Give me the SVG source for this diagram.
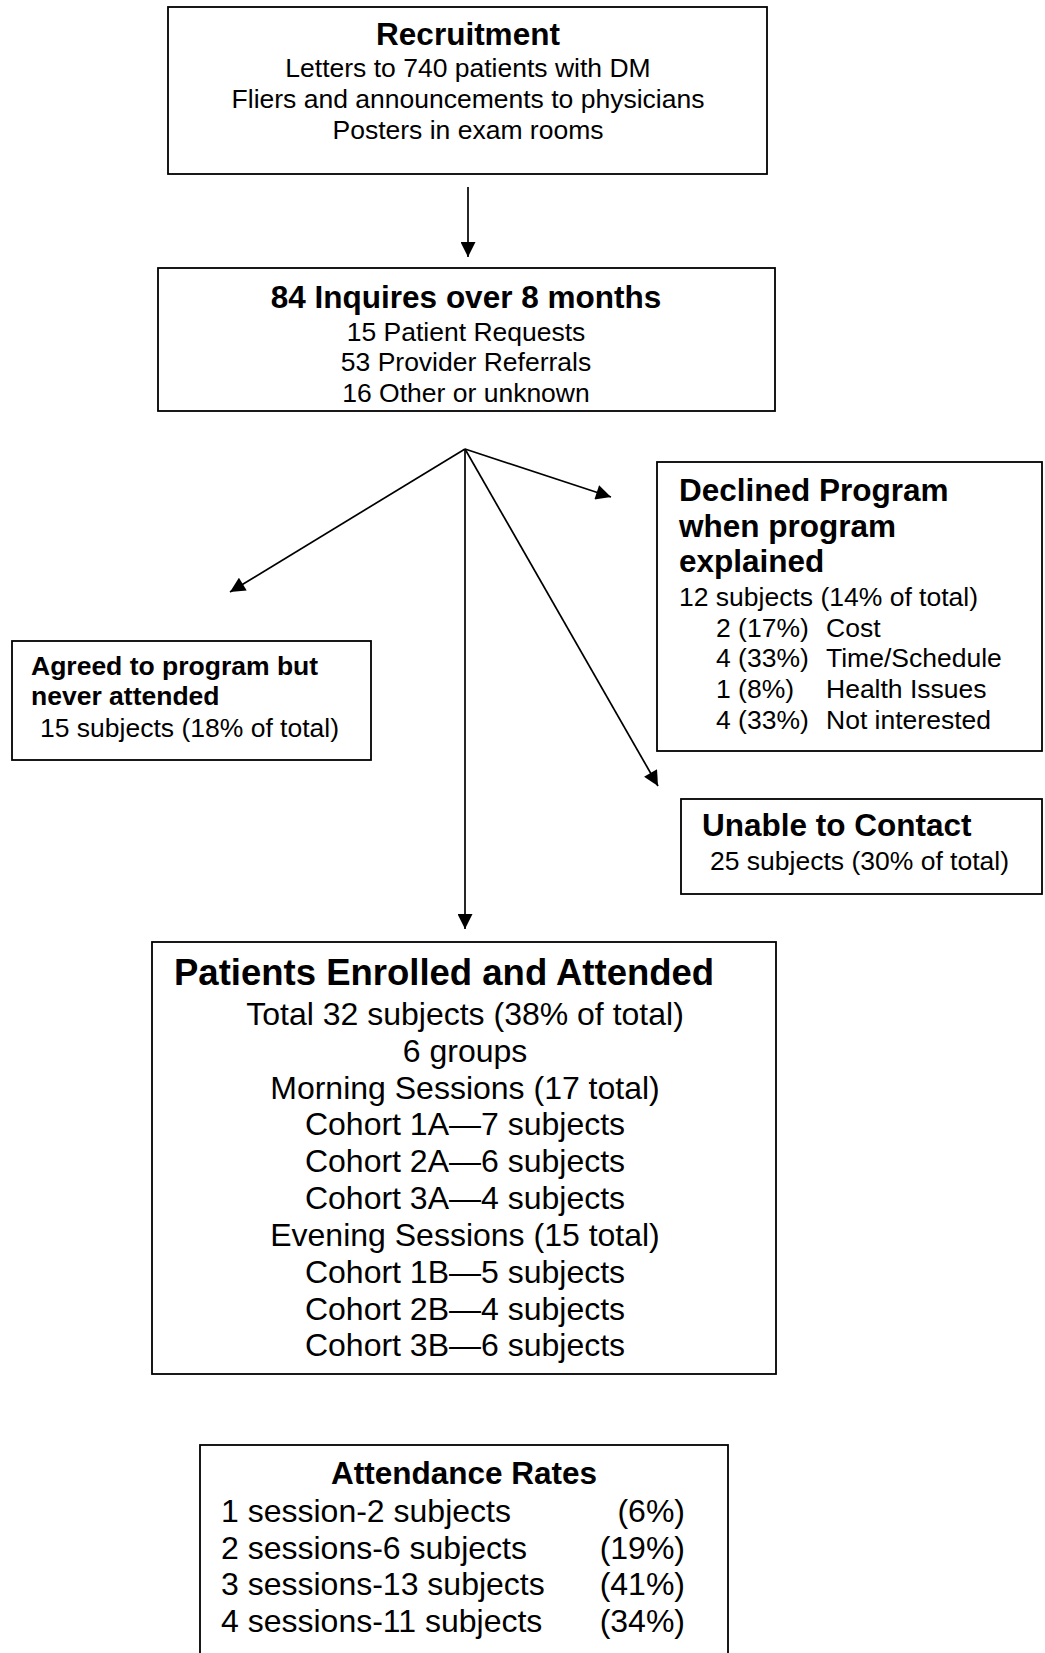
<svg xmlns="http://www.w3.org/2000/svg" width="1045" height="1653" viewBox="0 0 1045 1653">
<style>
.box{fill:#fff;stroke:#000;stroke-width:1.8}
text{font-family:"Liberation Sans",Arial,sans-serif;fill:#000}
.t{font-weight:bold;font-size:31.5px}
.t2{font-weight:bold;font-size:26.5px}
.r{font-size:26.5px}
.r2{font-size:32px}
.c{text-anchor:middle}
.e{text-anchor:end}
.ln{stroke:#000;stroke-width:1.7;fill:none;marker-end:url(#ah)}
</style>
<defs>
<marker id="ah" viewBox="0 0 10 10" refX="10" refY="5" markerWidth="19" markerHeight="15" markerUnits="userSpaceOnUse" orient="auto">
<path d="M0,0 L10,5 L0,10 z" fill="#000"/>
</marker>
</defs>
<rect width="1045" height="1653" fill="#fff"/>
<g id="connectors">
<line class="ln" x1="468" y1="187" x2="468" y2="257"/>
<line class="ln" x1="465" y1="449" x2="230" y2="592"/>
<line class="ln" x1="465" y1="449" x2="611" y2="497"/>
<line class="ln" x1="465" y1="449" x2="658" y2="786"/>
<line class="ln" x1="465" y1="449" x2="465" y2="929"/>
</g>
<g id="recruitment">
<rect class="box" x="168" y="7" width="599" height="167"/>
<text class="t c" x="468" y="45">Recruitment</text>
<text class="r c" x="468" y="77">Letters to 740 patients with DM</text>
<text class="r c" x="468" y="108">Fliers and announcements to physicians</text>
<text class="r c" x="468" y="139">Posters in exam rooms</text>
</g>
<g id="inquires">
<rect class="box" x="158" y="268" width="617" height="143"/>
<text class="t c" x="466" y="308">84 Inquires over 8 months</text>
<text class="r c" x="466" y="341">15 Patient Requests</text>
<text class="r c" x="466" y="371">53 Provider Referrals</text>
<text class="r c" x="466" y="402">16 Other or unknown</text>
</g>
<g id="agreed">
<rect class="box" x="12" y="641" width="359" height="119"/>
<text class="t2" x="31" y="675">Agreed to program but</text>
<text class="t2" x="31" y="705">never attended</text>
<text class="r" x="40" y="737">15 subjects (18% of total)</text>
</g>
<g id="declined">
<rect class="box" x="657" y="462" width="385" height="289"/>
<text class="t" x="679" y="501">Declined Program</text>
<text class="t" x="679" y="537">when program</text>
<text class="t" x="679" y="572">explained</text>
<text class="r" x="679" y="606">12 subjects (14% of total)</text>
<text class="r" x="716" y="637">2 (17%)</text><text class="r" x="826" y="637">Cost</text>
<text class="r" x="716" y="667">4 (33%)</text><text class="r" x="826" y="667">Time/Schedule</text>
<text class="r" x="716" y="698">1 (8%)</text><text class="r" x="826" y="698">Health Issues</text>
<text class="r" x="716" y="729">4 (33%)</text><text class="r" x="826" y="729">Not interested</text>
</g>
<g id="unable">
<rect class="box" x="681" y="799" width="361" height="95"/>
<text class="t" x="702" y="836">Unable to Contact</text>
<text class="r" x="710" y="870">25 subjects (30% of total)</text>
</g>
<g id="enrolled">
<rect class="box" x="152" y="942" width="624" height="432"/>
<text x="174" y="985" style="font-weight:bold;font-size:36.5px">Patients Enrolled and Attended</text>
<text class="r2 c" x="465" y="1025">Total 32 subjects (38% of total)</text>
<text class="r2 c" x="465" y="1062">6 groups</text>
<text class="r2 c" x="465" y="1099">Morning Sessions (17 total)</text>
<text class="r2 c" x="465" y="1135">Cohort 1A—7 subjects</text>
<text class="r2 c" x="465" y="1172">Cohort 2A—6 subjects</text>
<text class="r2 c" x="465" y="1209">Cohort 3A—4 subjects</text>
<text class="r2 c" x="465" y="1246">Evening Sessions (15 total)</text>
<text class="r2 c" x="465" y="1283">Cohort 1B—5 subjects</text>
<text class="r2 c" x="465" y="1320">Cohort 2B—4 subjects</text>
<text class="r2 c" x="465" y="1356">Cohort 3B—6 subjects</text>
</g>
<g id="attendance">
<rect class="box" x="200" y="1445" width="528" height="230"/>
<text class="t c" x="464" y="1484">Attendance Rates</text>
<text class="r2" x="221" y="1522">1 session-2 subjects</text><text class="r2 e" x="685" y="1522">(6%)</text>
<text class="r2" x="221" y="1559">2 sessions-6 subjects</text><text class="r2 e" x="685" y="1559">(19%)</text>
<text class="r2" x="221" y="1595">3 sessions-13 subjects</text><text class="r2 e" x="685" y="1595">(41%)</text>
<text class="r2" x="221" y="1632">4 sessions-11 subjects</text><text class="r2 e" x="685" y="1632">(34%)</text>
</g>
</svg>
